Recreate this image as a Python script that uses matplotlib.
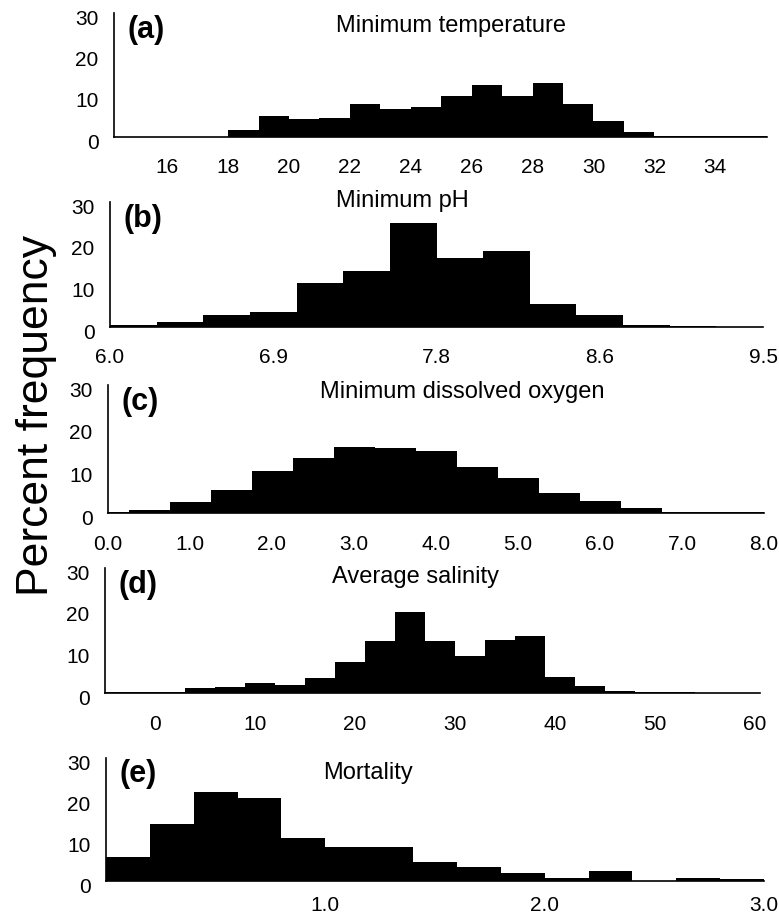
import numpy as np
import matplotlib.pyplot as plt
from matplotlib.transforms import ScaledTranslation

plt.rcParams['font.family'] = ['Liberation Sans', 'DejaVu Sans']

# (a) Minimum temperature, 1-degree bins
temp_edges = [16, 17, 18, 19, 20, 21, 22, 23, 24, 25, 26, 27, 28, 29, 30,
              31, 32, 33, 34, 35, 36]
temp_freq = [0.1, 0.1, 1.7, 5.2, 4.3, 4.7, 8.1, 6.7, 7.2, 9.9, 12.6, 9.9,
             13.1, 8.0, 3.8, 1.2, 0.3, 0.2, 0.2, 0.2]
temp_ticks = [16, 18, 20, 22, 24, 26, 28, 30, 32, 34]
temp_labels = ['16', '18', '20', '22', '24', '26', '28', '30', '32', '34']

# (b) Minimum pH, 0.25 bins
ph_edges = [6.0, 6.25, 6.5, 6.75, 7.0, 7.25, 7.5, 7.75, 8.0, 8.25, 8.5,
            8.75, 9.0, 9.25, 9.5]
ph_freq = [0.6, 1.2, 2.9, 3.5, 10.6, 13.5, 25.0, 16.5, 18.2, 5.5, 3.0,
           0.4, 0.3, 0.1]
ph_ticks = [6.0, 6.875, 7.75, 8.625, 9.5]
ph_labels = ['6.0', '6.9', '7.8', '8.6', '9.5']

# (c) Minimum dissolved oxygen, 0.5 bins centred on the half units
do_edges = [0.0, 0.25, 0.75, 1.25, 1.75, 2.25, 2.75, 3.25, 3.75, 4.25, 4.75,
            5.25, 5.75, 6.25, 6.75, 7.25, 8.0]
do_freq = [0.2, 0.7, 2.5, 5.4, 9.8, 12.9, 15.4, 15.2, 14.5, 10.7, 8.3, 4.8,
           2.9, 1.1, 0.3, 0.2]
do_ticks = [0, 1, 2, 3, 4, 5, 6, 7, 8]
do_labels = ['0.0', '1.0', '2.0', '3.0', '4.0', '5.0', '6.0', '7.0', '8.0']

# (d) Average salinity, 3-unit bins
sal_edges = [-6, -3, 0, 3, 6, 9, 12, 15, 18, 21, 24, 27, 30, 33, 36, 39, 42,
             45, 48, 51, 54, 57, 60]
sal_freq = [0.2, 0.2, 0.3, 1.1, 1.4, 2.4, 2.0, 3.5, 7.5, 12.6, 19.4, 12.6,
            9.0, 12.8, 13.6, 3.8, 1.6, 0.5, 0.2, 0.2, 0.1, 0.1]
sal_ticks = [0, 10, 20, 30, 40, 50, 60]
sal_labels = ['0', '10', '20', '30', '40', '50', '60']

# (e) Mortality, 0.2 bins
mort_edges = [0.0, 0.2, 0.4, 0.6, 0.8, 1.0, 1.2, 1.4, 1.6, 1.8, 2.0, 2.2,
              2.4, 2.6, 2.8, 3.0]
mort_freq = [5.8, 13.9, 21.7, 20.2, 10.5, 8.3, 8.2, 4.7, 3.3, 1.9, 0.8, 2.5,
             0.1, 0.7, 0.4]
mort_ticks = [1.0, 2.0, 3.0]
mort_labels = ['1.0', '2.0', '3.0']

W, H = 779, 915


def draw_panel(rect, edges, freq, xlim, ticks, labels, letter, title,
               title_x, title_y, pad):
    left, top, right, bottom = rect
    ax = fig.add_axes([left / W, 1 - bottom / H, (right - left) / W,
                       (bottom - top) / H])
    edges = np.array(edges, dtype=float)
    ax.bar(edges[:-1], freq, width=np.diff(edges), align='edge',
           color='black', linewidth=0)

    ax.set_xlim(*xlim)
    ax.set_ylim(0, 30)
    ax.set_xticks(ticks)
    ax.set_xticklabels(labels)
    ax.set_yticks([0, 10, 20, 30])
    ax.tick_params(axis='x', length=0, pad=pad, labelsize=15)
    ax.tick_params(axis='y', length=0, pad=11, labelsize=15)

    # y labels in the original sit a little below their tick value
    shift = ScaledTranslation(0, -3 / 72, fig.dpi_scale_trans)
    for lab in ax.get_yticklabels():
        lab.set_transform(lab.get_transform() + shift)

    for side in ['top', 'right']:
        ax.spines[side].set_visible(False)
    for side in ['left', 'bottom']:
        ax.spines[side].set_linewidth(1.2)

    # Panel letter and title sit inside the plot area.
    tr = ax.get_yaxis_transform()
    ax.text(0.02, 26, letter, transform=tr, fontsize=22, fontweight='bold',
            va='center', ha='left')
    ax.text(title_x, title_y, title, transform=tr, fontsize=17,
            va='baseline', ha='left')
    return ax


fig = plt.figure(figsize=(W / 100, H / 100), dpi=100)

draw_panel((114, 13, 767, 137), temp_edges, temp_freq, (14.25, 35.7),
           temp_ticks, temp_labels, '(a)', 'Minimum temperature',
           0.34, 25.5, 15)
draw_panel((110, 202, 763, 327), ph_edges, ph_freq, (6.0, 9.5),
           ph_ticks, ph_labels, '(b)', 'Minimum pH', 0.346, 28.8, 15)
draw_panel((108, 385, 764, 513), do_edges, do_freq, (0, 8),
           do_ticks, do_labels, '(c)', 'Minimum dissolved oxygen',
           0.323, 27, 16)
draw_panel((105, 568, 760, 693), sal_edges, sal_freq, (-5, 60.5),
           sal_ticks, sal_labels, '(d)', 'Average salinity', 0.347, 26.5, 16)
draw_panel((106, 758, 764, 881), mort_edges, mort_freq, (0, 3.0),
           mort_ticks, mort_labels, '(e)', 'Mortality', 0.33, 25, 11)

fig.text(37 / W, 1 - 415 / H, 'Percent frequency', rotation=90,
         fontsize=32, ha='center', va='center')

fig.savefig('out.png', dpi=100)
